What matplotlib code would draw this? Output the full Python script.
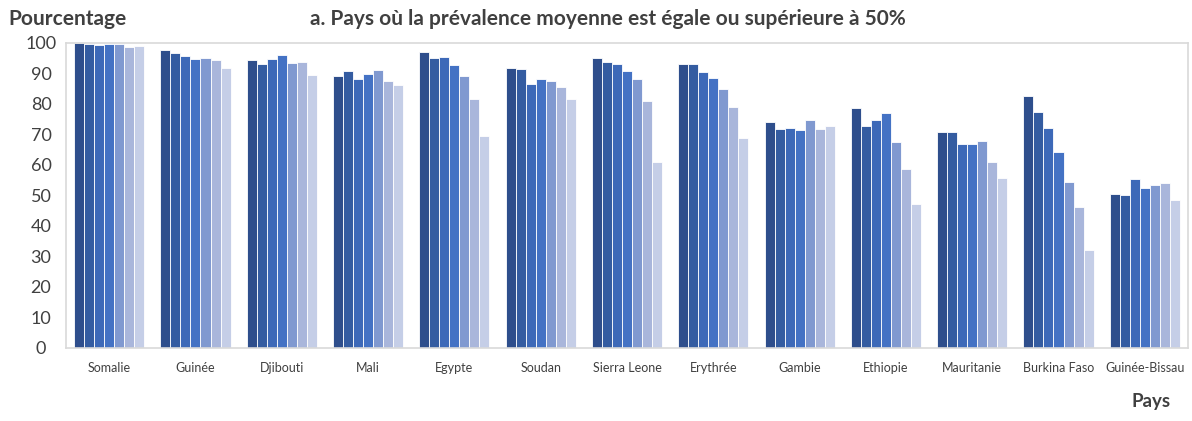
import matplotlib.pyplot as plt
import numpy as np

plt.rcParams['font.family'] = ['Lato', 'DejaVu Sans']

pays = ['Somalie', 'Guinée', 'Djibouti', 'Mali', 'Egypte', 'Soudan', 'Sierra Leone',
        'Erythrée', 'Gambie', 'Ethiopie', 'Mauritanie', 'Burkina Faso', 'Guinée-Bissau']

# one list per series (7 bars per country)
s1 = [99.9, 97.7, 94.4, 89.2, 97.2, 91.9, 95.0, 93.2, 74.0, 78.8, 70.7, 82.6, 50.5]
s2 = [99.7, 96.7, 93.1, 90.8, 95.0, 91.5, 93.7, 93.2, 71.7, 72.8, 70.7, 77.4, 50.2]
s3 = [99.4, 95.8, 94.8, 88.2, 95.5, 86.7, 93.2, 90.5, 72.1, 74.8, 66.9, 72.2, 55.4]
s4 = [99.8, 94.8, 96.1, 89.7, 92.8, 88.1, 90.8, 88.5, 71.4, 77.0, 66.9, 64.2, 52.6]
s5 = [99.6, 95.0, 93.4, 91.0, 89.3, 87.6, 88.1, 84.9, 74.9, 67.6, 67.9, 54.5, 53.5]
s6 = [98.8, 94.4, 93.8, 87.4, 81.6, 85.7, 81.1, 79.0, 71.8, 58.7, 61.0, 46.1, 54.2]
s7 = [99.0, 91.7, 89.5, 86.2, 69.6, 81.7, 61.1, 68.9, 72.7, 47.1, 55.7, 32.1, 48.4]
series = [s1, s2, s3, s4, s5, s6, s7]

colors = ['#2E4E8C', '#345CA1', '#3D69B8', '#4472C4', '#8099D0', '#A9B6DB', '#C5CEE7']

fig = plt.figure(figsize=(11.92, 4.21), dpi=100)
ax = fig.add_axes([0.0554, 0.1734, 0.9412, 0.7245])

x = np.arange(len(pays))
w = 0.116
for i, (vals, c) in enumerate(zip(series, colors)):
    ax.bar(x + (i - 3) * w, vals, width=w, color=c, edgecolor='white', linewidth=0.6)

ax.set_xlim(-0.5, len(pays) - 0.5)
ax.set_ylim(0, 100)
ax.set_yticks(range(0, 101, 10))
ax.set_xticks(x)
ax.set_xticklabels(pays, fontsize=9, color='#404040')
ax.tick_params(axis='y', length=0, labelsize=13, labelcolor='#404040', pad=18)
ax.tick_params(axis='x', length=0, pad=10)
for lbl in ax.get_yticklabels():
    lbl.set_horizontalalignment('center')
for sp in ax.spines.values():
    sp.set_color('#D9D9D9')
    sp.set_linewidth(1.2)

fig.text(0.007, 0.955, 'Pourcentage', fontsize=15, fontweight='bold', color='#404040', va='center')
fig.text(0.51, 0.955, 'a. Pays où la prévalence moyenne est égale ou supérieure à 50%',
         fontsize=15, fontweight='bold', color='#404040', ha='center', va='center')
fig.text(0.982, 0.025, 'Pays', fontsize=13.5, fontweight='bold', color='#404040', ha='right', va='bottom')

fig.savefig('out.png', dpi=100)
